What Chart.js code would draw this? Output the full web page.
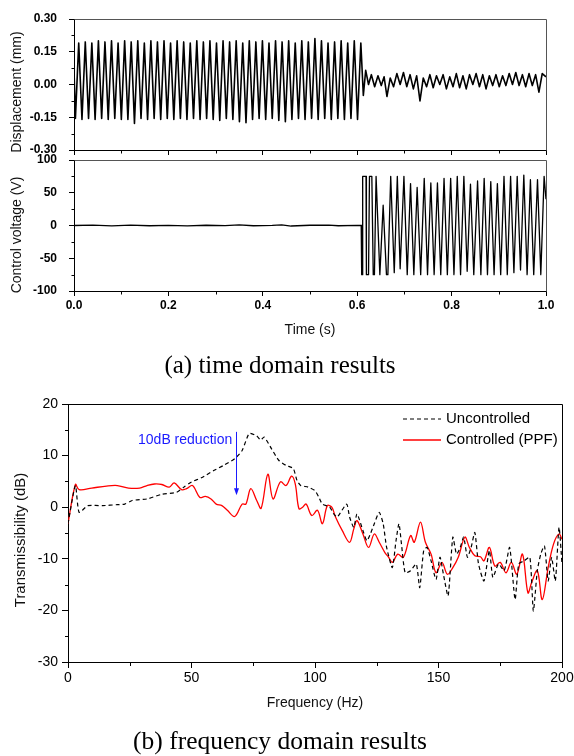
<!DOCTYPE html>
<html><head><meta charset="utf-8">
<script src="https://cdn.jsdelivr.net/npm/chart.js@4.4.1/dist/chart.umd.min.js"></script>
<style>
html,body{margin:0;padding:0;background:#fff;}
#wrap{position:relative;width:574px;height:756px;overflow:hidden;background:#fff;}
canvas{position:absolute;left:0;top:0;}
.cap{position:absolute;left:0;width:560px;text-align:center;font-family:"Liberation Serif","Times New Roman",serif;font-size:25px;line-height:28px;color:#000;}
</style></head><body>
<div id="wrap">
<canvas id="c1" width="574" height="756"></canvas>
<canvas id="c2" width="574" height="756"></canvas>
<canvas id="c3" width="574" height="756"></canvas>
<div class="cap" style="top:351px">(a) time domain results</div>
<div class="cap" style="top:727px;font-size:25.5px">(b) frequency domain results</div>
</div>
<script>
// ---------------- DATA ----------------
// (a) displacement, extremes of the measured signal (time in ms, mm)
const dispTimeMs = [0,3.0,10.0,16.9,23.9,30.8,37.8,44.7,51.7,58.6,65.6,72.5,79.5,86.4,93.4,100.3,107.3,114.2,121.2,128.1,135.1,142.0,149.0,155.9,162.9,169.8,176.8,183.7,190.7,197.6,204.6,211.5,218.5,225.4,232.4,239.3,246.3,253.2,260.2,267.1,274.1,281.0,288.0,294.9,301.9,308.8,315.8,322.7,329.7,336.6,343.6,350.5,357.5,364.4,371.4,378.3,385.3,392.2,399.2,406.1,413.1,420.0,427.0,433.9,440.9,447.8,454.8,461.7,468.7,475.6,482.6,489.5,496.5,503.4,510.4,517.3,524.3,531.2,538.2,545.1,552.1,559.0,566.0,572.9,579.9,586.8,593.8,600.7,607.7,
  613,618,624,630,637,644,651,657,663,670,677,684,691,698,705,712,719,726,733,740,747,754,761,768,775,782,789,796,803,810,817,824,831,838,845,852,859,866,873,880,887,894,901,908,915,922,929,936,943,950,957,964,971,978,985,992,1000];
const dispValue = [0.07,
  -0.155,0.19,-0.16,0.195,-0.155,0.19,-0.16,0.2,-0.155,0.195,-0.16,0.2,-0.155,0.19,-0.16,0.2,-0.16,0.195,-0.178,0.2,
  -0.155,0.19,-0.16,0.2,-0.155,0.195,-0.16,0.2,-0.155,0.19,-0.16,0.2,-0.155,0.195,-0.16,0.19,-0.155,0.2,-0.16,0.195,
  -0.155,0.2,-0.16,0.19,-0.165,0.2,-0.155,0.195,-0.16,0.2,-0.17,0.19,-0.175,0.2,-0.16,0.195,-0.155,0.2,-0.16,0.19,
  -0.155,0.2,-0.165,0.195,-0.17,0.2,-0.16,0.19,-0.155,0.2,-0.16,0.195,-0.155,0.21,-0.16,0.2,-0.155,0.19,-0.16,0.195,
  -0.155,0.2,-0.16,0.19,-0.155,0.2,-0.16,0.19,
  -0.05,0.065,0.0,0.045,-0.01,0.04,-0.005,0.035,-0.055,0.03,-0.01,0.05,0.0,0.055,-0.01,0.045,-0.02,0.04,-0.075,0.03,
  -0.01,0.045,-0.015,0.04,0.0,0.045,-0.02,0.035,-0.01,0.05,-0.015,0.04,-0.02,0.045,0.0,0.05,-0.01,0.045,-0.02,0.04,
  -0.005,0.045,-0.01,0.04,-0.005,0.05,0.0,0.055,-0.005,0.045,-0.01,0.05,-0.005,0.045,-0.035,0.05,0.035];
// (a) control voltage (time in ms, V)
const voltTimeMs = [0,40,80,120,160,200,240,280,320,350,380,420,440,460,500,540,560,600,608.5,
  609.5,611.0,611.6,618.7,619.5,624.0,626.0,631.0,634.0,636.5,640,648,655,662,665,671,678.5,685,691,699,706,713,720,727,734.5,742,749,756,763,770,777,784,791,798,805,812,819,826,833,840,847,855,862,869,876,883,890,897,904,911,918,925,932,939,946,953,960,967,974,982,989,996,1000];
const voltValue = [0,0.5,-0.5,0.6,-0.4,0.3,-0.5,0.4,-0.3,0.9,-0.4,0.3,1.0,-0.8,0.4,0.5,-0.4,0.3,0,
  -75,-75,75,75,-75,-75,75,75,-75,-75,75,-75,31,-75,-75,75,-72,75,-66,75,-75,64,-75,58,-75,72,-75,65,-75,65,-75,72,-75,72,-75,75,-75,75,-70,63,-75,68,-75,72,-75,67,-75,64,-75,75,-75,75,-72,75,-68,77,-75,70,-75,70,-75,75,40];
// (b) transmissibility
const freqUncontrolled = [0,3,4.5,8,14,20,23,26,32,38,44,47,50,54,59,63,67.5,70.5,73.4,76.4,78,79.4,82.3,85.3,88.3,91.2,92.7,94.2,97.2,100,101.6,103,106,107.6,109,112.8,114,115.7,117,119.4,121,122.4,124,126,127.6,129,131.3,132.8,134,135,136.5,138.7,141,142.4,144,145.4,147,149,150.6,152,153.9,155.8,157.3,158.8,160.2,161.7,163.2,164.7,166.2,168.4,170.6,172,174.3,176.6,178.8,181,182.5,184.7,187,188.4,190,191.4,192.9,194.4,195.8,197.3,198.8,200];
const transUncontrolled = [-3.2,4.2,-1,0.3,0.3,0.5,0.6,1.3,1.6,2.5,2.9,3.9,4.9,5.7,7.1,8.1,9.4,11,14.3,13.8,13,13.6,11.4,9.1,8.1,7.5,5.2,4.2,3.9,3.2,1.9,0.6,0,-1.3,-1.9,0.6,-1.9,-3.9,-1.3,-4.5,-6.5,-5.2,-3.2,-1,-3.2,-7.8,-11.7,-6.5,-3.2,-7.1,-12.7,-12.3,-11,-15.6,-8.4,-7.8,-10.4,-14,-9.7,-13,-17.2,-5.8,-9.1,-7.8,-5.8,-9.7,-7.8,-4.9,-11,-14.3,-8.4,-13.6,-11,-12.3,-7.8,-17.9,-11,-10.4,-9.7,-20.1,-12.3,-9.1,-7.5,-14.3,-9.7,-14.3,-3.9,-11];
const freqControlled = [0,3,4.5,9.6,15.6,20,24.5,29,32,35,38,41,43,46,48,50.4,53.4,55.6,57.9,60,62.3,64.5,67.5,70.5,72,74,76.4,78.2,80.9,83,86,88.3,90.5,92,93.5,95,96.4,98.7,101,103,105,106.8,108.3,111,114,115.7,117,119.4,121.7,124,126,128.3,129.8,131.3,133.5,135.8,138.7,140.2,142.7,144.7,147,149,151.4,153.6,155.8,158,160.7,162.5,164.7,167,168.4,170.6,172.8,175,177.3,179.5,181.7,184,186.2,187.7,190,192,194.4,196.6,198.8,200];
const transControlled = [-3.2,4.4,3.4,3.7,4.1,4.2,3.7,3.7,4.2,4.5,4.4,3.9,4.7,3.4,3.6,4.2,1.9,2.1,1.6,0.6,0.3,-0.6,-1.8,0.6,0.6,3.6,1.3,-0.2,6.4,1.6,4.9,4.2,6,4.5,-0.3,0,0.6,-1.6,-0.6,-3.2,0.3,0,-1.9,-4.5,-6.8,-4.2,-2.6,-5.2,-7.8,-5.2,-6.8,-8.8,-9.7,-10.7,-9.1,-9.7,-5.5,-6.8,-2.9,-6.8,-9.1,-12.7,-10.7,-13,-11.7,-9.7,-5.8,-7.8,-9.4,-9.6,-10.4,-7.8,-11.4,-10.7,-12.7,-10.7,-13,-9.1,-16.6,-14.6,-12.3,-17.9,-11.7,-7.1,-5.2,-6.2];
// tick labels
const dispTicks = [-0.30,-0.15,0.00,0.15,0.30];
const dispMinor = [-0.225,-0.075,0.075,0.225];
const voltTicks = [-100,-50,0,50,100];
const voltMinor = [-75,-25,25,75];
const timeTicks = [0,0.2,0.4,0.6,0.8,1.0];
const timeMinor = [0.1,0.3,0.5,0.7,0.9];
const freqTicks = [0,50,100,150,200];
const freqMinor = [25,75,125,175];
const transTicks = [-30,-20,-10,0,10,20];
const transMinor = [-25,-15,-5,5,15];
const seriesNames = ['Uncontrolled','Controlled (PPF)'];
const annotationText = '10dB reduction';
const annotationFreq = 68.1, arrowTop = 14.6, arrowBottom = 2.3;

// ---------------- RENDER ----------------
const FONT = "'Liberation Sans', Arial, Helvetica, sans-serif";
const deco = {
  id: 'deco',
  afterDraw(chart, args, o) {
    const ctx = chart.ctx, a = chart.chartArea;
    const al = v => Math.round(v) + 0.5;
    ctx.save();
    ctx.lineWidth = 1;
    if (o.frame) {
      ctx.strokeStyle = o.frame;
      ctx.beginPath();
      ctx.moveTo(al(a.left), al(a.top)); ctx.lineTo(al(a.right), al(a.top)); ctx.lineTo(al(a.right), al(a.bottom));
      ctx.stroke();
    }
    ctx.strokeStyle = '#000';
    (o.minor || []).forEach(m => {
      const s = chart.scales[m.axis];
      m.values.forEach(v => {
        const p = al(s.getPixelForValue(v));
        ctx.beginPath();
        if (m.axis === 'x') { ctx.moveTo(p, al(a.bottom)); ctx.lineTo(p, al(a.bottom) + m.len); }
        else { ctx.moveTo(al(a.left) - m.len, p); ctx.lineTo(al(a.left), p); }
        ctx.stroke();
      });
    });
    (o.titles || []).forEach(t => {
      ctx.save();
      ctx.fillStyle = '#111'; ctx.font = t.font; ctx.textAlign = 'center'; ctx.textBaseline = 'middle';
      ctx.translate(t.x, t.y); if (t.rot) ctx.rotate(-Math.PI / 2);
      ctx.fillText(t.text, 0, 0);
      ctx.restore();
    });
    if (o.annotation) {
      const sx = chart.scales.x, sy = chart.scales.y;
      const x = sx.getPixelForValue(annotationFreq), y1 = sy.getPixelForValue(arrowTop), y2 = sy.getPixelForValue(arrowBottom);
      ctx.strokeStyle = '#1a1aff'; ctx.fillStyle = '#1a1aff'; ctx.lineWidth = 1;
      ctx.beginPath(); ctx.moveTo(al(x), y1); ctx.lineTo(al(x), y2 - 6); ctx.stroke();
      ctx.beginPath(); ctx.moveTo(al(x) - 2.5, y2 - 7); ctx.lineTo(al(x) + 2.5, y2 - 7); ctx.lineTo(al(x), y2); ctx.closePath(); ctx.fill();
      ctx.font = '14px ' + FONT; ctx.textAlign = 'right'; ctx.textBaseline = 'middle';
      ctx.fillText(annotationText, x - 4, sy.getPixelForValue(13.0));
    }
    if (o.legend) {
      const ds = chart.data.datasets;
      o.legend.forEach((L, i) => {
        const d = ds[i];
        ctx.strokeStyle = d.borderColor; ctx.lineWidth = d.borderWidth;
        ctx.setLineDash(d.borderDash || []);
        ctx.beginPath(); ctx.moveTo(L.x0, L.y); ctx.lineTo(L.x1, L.y); ctx.stroke();
        ctx.setLineDash([]);
        ctx.fillStyle = '#000'; ctx.font = '15px ' + FONT; ctx.textAlign = 'left'; ctx.textBaseline = 'middle';
        ctx.fillText(d.label, L.x1 + 5, L.y);
      });
    }
    ctx.restore();
  }
};
Chart.register(deco);

function axis(o) {
  return {
    type: 'linear', min: o.min, max: o.max,
    afterBuildTicks: s => { s.ticks = o.ticks.map(v => ({value: v})); },
    afterFit: s => {
      if (o.width != null) s.width = o.width;
      if (o.height != null) s.height = o.height;
      s.paddingLeft = s.paddingRight = s.paddingTop = s.paddingBottom = 0;
    },
    grid: {display: true, drawOnChartArea: false, drawTicks: true, tickLength: o.tickLen, tickColor: '#000', tickWidth: 1, color: '#000'},
    border: {display: true, color: '#000', width: 1},
    ticks: {display: o.labels !== false, font: o.font, color: '#000', padding: o.pad || 0, callback: o.fmt, autoSkip: false, maxRotation: 0, minRotation: 0},
    title: {display: false}
  };
}
const pts = (xs, ys, k) => xs.map((x, i) => ({x: x * k, y: ys[i]}));
const base = (padding) => ({
  responsive: false, animation: false, events: [],
  layout: {padding},
  plugins: {legend: {display: false}, tooltip: {enabled: false}, title: {display: false}}
});
const boldF = {family: FONT, size: 12, weight: 'bold'};
const regF = {family: FONT, size: 14};

// top: displacement
new Chart(document.getElementById('c1'), {
  type: 'line',
  data: {datasets: [{data: pts(dispTimeMs, dispValue, 0.001), borderColor: '#000', borderWidth: 1.6, pointRadius: 0, tension: 0, borderJoinStyle: 'round'}]},
  options: Object.assign(base({left: 0, top: 19, right: 28, bottom: 600}), {
    scales: {
      x: axis({min: 0, max: 1, ticks: timeTicks, tickLen: 5, labels: false, height: 6}),
      y: axis({min: -0.3, max: 0.3, ticks: dispTicks, tickLen: 5, font: boldF, pad: 12, width: 74, fmt: v => v.toFixed(2)})
    },
    plugins: {legend: {display: false}, tooltip: {enabled: false},
      deco: {frame: '#555', minor: [{axis: 'x', values: timeMinor, len: 3}, {axis: 'y', values: dispMinor, len: 3}],
        titles: [{text: 'Displacement (mm)', x: 17, y: 92, rot: true, font: '14px ' + FONT}]}}
  })
});

// middle: control voltage
new Chart(document.getElementById('c2'), {
  type: 'line',
  data: {datasets: [{data: pts(voltTimeMs, voltValue, 0.001), borderColor: '#000', borderWidth: 1.3, pointRadius: 0, tension: 0, borderJoinStyle: 'round'}]},
  options: Object.assign(base({left: 0, top: 160, right: 28, bottom: 435}), {
    scales: {
      x: axis({min: 0, max: 1, ticks: timeTicks, tickLen: 5, font: boldF, pad: 2, height: 30, fmt: v => v.toFixed(1)}),
      y: axis({min: -100, max: 100, ticks: voltTicks, tickLen: 5, font: boldF, pad: 12, width: 74, fmt: v => String(v)})
    },
    plugins: {legend: {display: false}, tooltip: {enabled: false},
      deco: {frame: '#555', minor: [{axis: 'x', values: timeMinor, len: 3}, {axis: 'y', values: voltMinor, len: 3}],
        titles: [{text: 'Control voltage (V)', x: 17, y: 235, rot: true, font: '14px ' + FONT},
                 {text: 'Time (s)', x: 310, y: 330, font: '14px ' + FONT}]}}
  })
});

// bottom: transmissibility
new Chart(document.getElementById('c3'), {
  type: 'line',
  data: {datasets: [
    {label: seriesNames[0], data: pts(freqUncontrolled, transUncontrolled, 1), borderColor: '#000', borderWidth: 1.2, borderDash: [4, 3], pointRadius: 0, tension: 0.2},
    {label: seriesNames[1], data: pts(freqControlled, transControlled, 1), borderColor: '#ff0000', borderWidth: 1.3, pointRadius: 0, tension: 0.35}
  ]},
  options: Object.assign(base({left: 0, top: 404, right: 12, bottom: 64}), {
    scales: {
      x: axis({min: 0, max: 200, ticks: freqTicks, tickLen: 6, font: regF, pad: 2, height: 30, fmt: v => String(v)}),
      y: axis({min: -30, max: 20, ticks: transTicks, tickLen: 6, font: regF, pad: 4, width: 68, fmt: v => String(v)})
    },
    plugins: {legend: {display: false}, tooltip: {enabled: false},
      deco: {frame: '#000', minor: [{axis: 'x', values: freqMinor, len: 3.5}, {axis: 'y', values: transMinor, len: 3.5}],
        titles: [{text: 'Transmissibility (dB)', x: 21, y: 540, rot: true, font: '15px ' + FONT},
                 {text: 'Frequency (Hz)', x: 315, y: 703, font: '14px ' + FONT}],
        annotation: true,
        legend: [{x0: 403, x1: 441, y: 419}, {x0: 403, x1: 441, y: 440}]}}
  })
});
</script>
</body></html>
